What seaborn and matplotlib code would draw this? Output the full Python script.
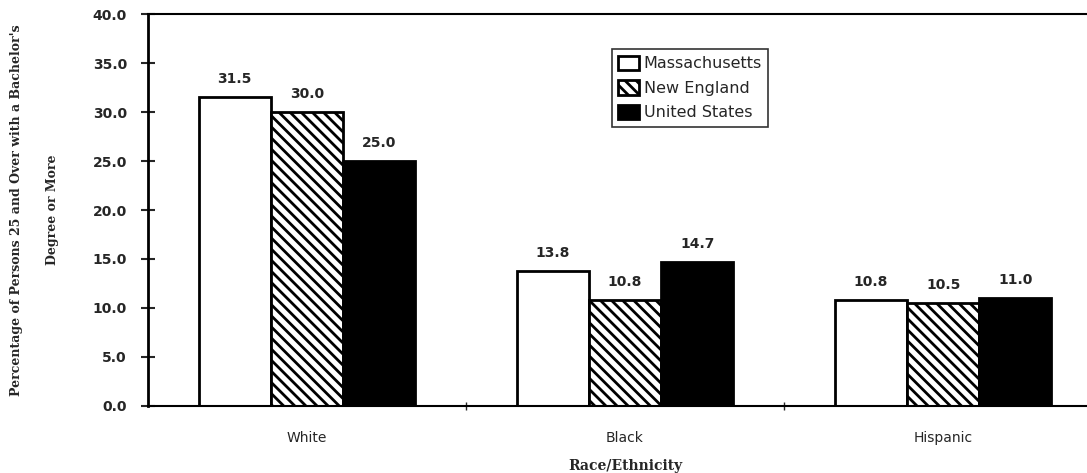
import pandas as pd
import matplotlib
matplotlib.use("Agg")
import matplotlib.pyplot as plt
import matplotlib.patches as mpatches
from matplotlib.ticker import FixedLocator
import seaborn as sns

# Datos
grupos = ["White", "Black", "Hispanic"]
regiones = ["Massachusetts", "New England", "United States"]
massachusetts = [31.5, 13.8, 10.8]
new_england = [30.0, 10.8, 10.5]
united_states = [25.0, 14.7, 11.0]

filas = []
for i, g in enumerate(grupos):
    filas.append({"Raza": g, "Region": regiones[0], "Valor": massachusetts[i]})
    filas.append({"Raza": g, "Region": regiones[1], "Valor": new_england[i]})
    filas.append({"Raza": g, "Region": regiones[2], "Valor": united_states[i]})
df = pd.DataFrame(filas)

sns.set_style("white")
plt.rcParams["hatch.linewidth"] = 2.0

fig = plt.figure(figsize=(10.87, 4.73), dpi=100)
ax = fig.add_axes([0.136, 0.142, 0.878, 0.828])

sns.barplot(data=df, x="Raza", y="Valor", hue="Region", order=grupos,
            hue_order=regiones, width=0.68, gap=0, ax=ax, legend=False,
            edgecolor="black", linewidth=2)

estilos = [("white", ""), ("white", "\\\\\\"), ("black", "")]
for cont, (fc, hatch) in zip(ax.containers, estilos):
    for barra in cont:
        barra.set_facecolor(fc)
        barra.set_hatch(hatch)
        barra.set_edgecolor("black")
    ax.bar_label(cont, fmt="%.1f", padding=8, fontsize=10, fontweight="bold")

ax.set_ylim(0, 40)
ax.set_xlim(-0.5, 2.5)
ax.set_yticks([0, 5, 10, 15, 20, 25, 30, 35, 40])
ax.set_yticklabels([f"{v:.1f}" for v in ax.get_yticks()], fontsize=10, fontweight="bold")
ax.tick_params(axis="y", direction="inout", length=10, width=1.5, left=True, pad=10)
ax.tick_params(axis="x", length=0, pad=18, labelsize=10)
ax.xaxis.set_minor_locator(FixedLocator([0.5, 1.5]))
ax.tick_params(axis="x", which="minor", direction="inout", length=6, width=1, bottom=True)

for lado in ["left", "bottom", "top", "right"]:
    ax.spines[lado].set_visible(True)
    ax.spines[lado].set_color("black")
ax.spines["left"].set_linewidth(2)
ax.spines["bottom"].set_linewidth(1.5)
ax.spines["top"].set_linewidth(1.5)
ax.spines["right"].set_linewidth(1.5)

ax.set_xlabel("Race/Ethnicity", fontsize=10, fontweight="bold", family="serif", labelpad=10)
ax.set_ylabel("Percentage of Persons 25 and Over with a Bachelor's\nDegree or More",
              fontsize=9, fontweight="bold", family="serif", labelpad=24, linespacing=3.3)

handles = [mpatches.Patch(facecolor=fc, edgecolor="black", hatch=h, linewidth=2, label=r)
           for (fc, h), r in zip(estilos, regiones)]
leg = ax.legend(handles=handles, loc="upper left", bbox_to_anchor=(0.486, 0.91),
                fontsize=11.5, frameon=True, fancybox=False, edgecolor="black",
                handlelength=1.3, handleheight=1.0, handletextpad=0.3,
                borderpad=0.4, labelspacing=0.55, borderaxespad=0)
leg.get_frame().set_linewidth(1.2)

fig.savefig("out.png", dpi=100)
